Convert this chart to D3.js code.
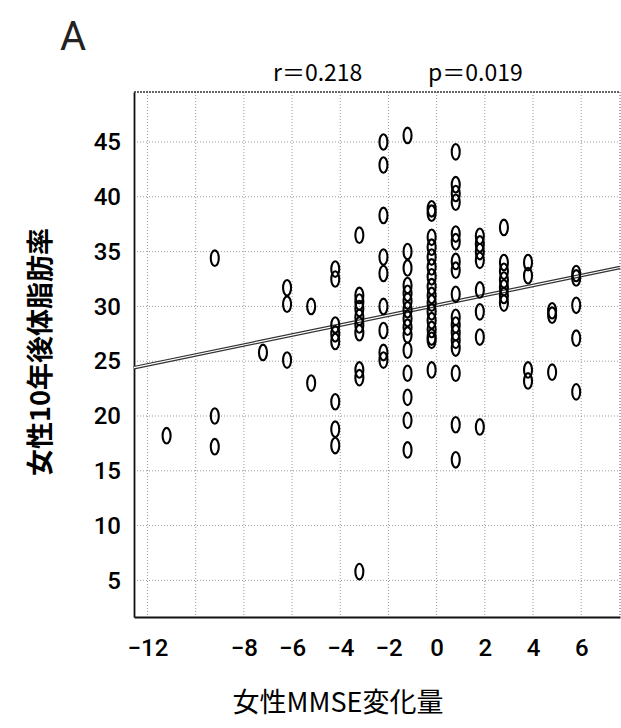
<!DOCTYPE html>
<html>
<head>
<meta charset="utf-8">
<script src="https://cdn.jsdelivr.net/npm/d3@7"></script>
<style>
  body { margin: 0; background: #fff; }
  svg { display: block; }
  .num { font-family: "Liberation Sans Narrow", "Roboto", "Liberation Sans", sans-serif; }
  .jp { font-family: "Noto Sans CJK JP", sans-serif; }
</style>
</head>
<body>
<script>
// MMSE change (x) and the 10-year body fat values (y) found in each column
const mmseValues = [-11, -9, -7, -6, -5, -4, -3, -2, -1, 0, 1, 2, 3, 4, 5, 6];
const bodyFat = [
  [18.2],
  [34.4, 20.0, 17.2],
  [25.8],
  [31.7, 30.2, 25.1],
  [30.0, 23.0],
  [33.4, 32.5, 28.3, 27.5, 26.8, 21.3, 18.8, 17.3],
  [36.5, 31.0, 30.4, 29.8, 29.0, 28.3, 27.6, 24.2, 23.5, 5.8],
  [45.0, 42.9, 38.3, 34.5, 33.0, 30.0, 27.8, 25.8, 25.1],
  [45.6, 35.0, 33.5, 31.9, 31.2, 30.5, 29.7, 28.9, 28.1, 27.4, 26.0, 23.9, 21.7, 19.6, 16.9],
  [38.9, 38.5, 36.3, 35.4, 34.5, 33.6, 32.7, 31.8, 31.0, 30.3, 29.5, 28.7, 27.9, 27.2, 26.9, 24.2],
  [44.1, 41.1, 40.3, 39.5, 36.6, 35.9, 34.1, 33.3, 31.1, 29.0, 28.3, 27.6, 26.9, 26.2, 23.9, 19.2, 16.0],
  [36.4, 35.7, 35.0, 34.2, 31.5, 29.5, 27.2, 19.0],
  [37.2, 34.0, 33.2, 32.4, 31.7, 31.0, 30.3],
  [34.0, 32.8, 24.2, 23.2],
  [29.6, 29.2, 24.0],
  [33.0, 32.6, 30.1, 27.1, 22.2]
];

// regression line as printed on the chart
const fitSlope = 0.453;
const fitIntercept = 30.1;

const xTicks = [-12, -8, -6, -4, -2, 0, 2, 4, 6];
const xGrid = [-12, -10, -8, -6, -4, -2, 0, 2, 4, 6];
const yTicks = [5, 10, 15, 20, 25, 30, 35, 40, 45];

const statText = "r\uFF1D0.218";
const statText2 = "p\uFF1D0.019";

var points = [];
mmseValues.forEach((m, i) => bodyFat[i].forEach(f => points.push({x: m, y: f})));

var W = 621, H = 728;
var pLeft = 134, pRight = 620, pTop = 92, pBottom = 617;

var svg = d3.select("body").append("svg")
  .attr("width", W).attr("height", H)
  .style("background", "#fff");

var x = d3.scaleLinear().domain([-12.56, 7.61]).range([pLeft, pRight]);
var y = d3.scaleLinear().domain([1.66, 49.56]).range([pBottom, pTop]);

// grid
svg.append("g").selectAll("line").data(xGrid).join("line")
  .attr("x1", d => x(d)).attr("x2", d => x(d))
  .attr("y1", pTop).attr("y2", pBottom)
  .attr("stroke", "#999").attr("stroke-width", 1)
  .attr("stroke-dasharray", "1,2");

svg.append("g").selectAll("line").data(yTicks).join("line")
  .attr("x1", pLeft).attr("x2", pRight)
  .attr("y1", d => y(d)).attr("y2", d => y(d))
  .attr("stroke", "#999").attr("stroke-width", 1)
  .attr("stroke-dasharray", "1,2");

// frame
svg.append("line").attr("x1", pLeft).attr("x2", pRight).attr("y1", pTop).attr("y2", pTop)
  .attr("stroke", "#333").attr("stroke-width", 1.5).attr("stroke-dasharray", "2,1");
svg.append("line").attr("x1", pRight).attr("x2", pRight).attr("y1", pTop).attr("y2", pBottom)
  .attr("stroke", "#555").attr("stroke-width", 1).attr("stroke-dasharray", "1,2");

// axes
var xAxis = d3.axisBottom(x).tickValues(xTicks).tickSize(0).tickPadding(22)
  .tickFormat(d => d < 0 ? "\u2212" + Math.abs(d) : d);
var gx = svg.append("g").attr("transform", `translate(0,${pBottom})`).call(xAxis);
gx.select(".domain").attr("stroke", "#111").attr("stroke-width", 1.8);
gx.selectAll("text").attr("class", "num").attr("font-size", 24)
  .attr("font-weight", 500).attr("fill", "#000");

var yAxis = d3.axisLeft(y).tickValues(yTicks).tickSize(0).tickPadding(13);
var gy = svg.append("g").attr("transform", `translate(${pLeft},0)`).call(yAxis);
gy.select(".domain").attr("stroke", "#111").attr("stroke-width", 1.8);
gy.selectAll("text").attr("class", "num").attr("font-size", 24)
  .attr("font-weight", 500).attr("fill", "#000");

// regression line (double stroke)
var xs = x.domain();
var fit = xs.map(v => [x(v), y(fitIntercept + fitSlope * v)]);
svg.append("path").attr("d", d3.line()(fit))
  .attr("stroke", "#333").attr("stroke-width", 3.6).attr("fill", "none");
svg.append("path").attr("d", d3.line()(fit))
  .attr("stroke", "#fff").attr("stroke-width", 1.2).attr("fill", "none");

// points drawn as "0" shaped rings
svg.append("g").selectAll("ellipse").data(points).join("ellipse")
  .attr("cx", d => x(d.x) - 5)
  .attr("cy", d => y(d.y))
  .attr("rx", 4).attr("ry", 7.8)
  .attr("fill", "none").attr("stroke", "#000").attr("stroke-width", 2.1);

// texts
svg.append("text").attr("x", 60).attr("y", 50)
  .attr("class", "num").attr("font-size", 40).attr("fill", "#222").text("A");

svg.append("text").attr("x", 273).attr("y", 81)
  .attr("class", "jp").attr("font-size", 23).attr("fill", "#000").text(statText);
svg.append("text").attr("x", 428).attr("y", 81)
  .attr("class", "jp").attr("font-size", 23).attr("fill", "#000").text(statText2);

svg.append("text").attr("class", "jp")
  .attr("transform", `translate(50,352) rotate(-90)`)
  .attr("text-anchor", "middle").attr("font-size", 27).attr("font-weight", "bold")
  .attr("fill", "#000").text("女性10年後体脂肪率");

svg.append("text").attr("class", "jp")
  .attr("x", 338).attr("y", 712)
  .attr("text-anchor", "middle").attr("font-size", 27)
  .attr("fill", "#000").text("女性MMSE変化量");
</script>
</body>
</html>
